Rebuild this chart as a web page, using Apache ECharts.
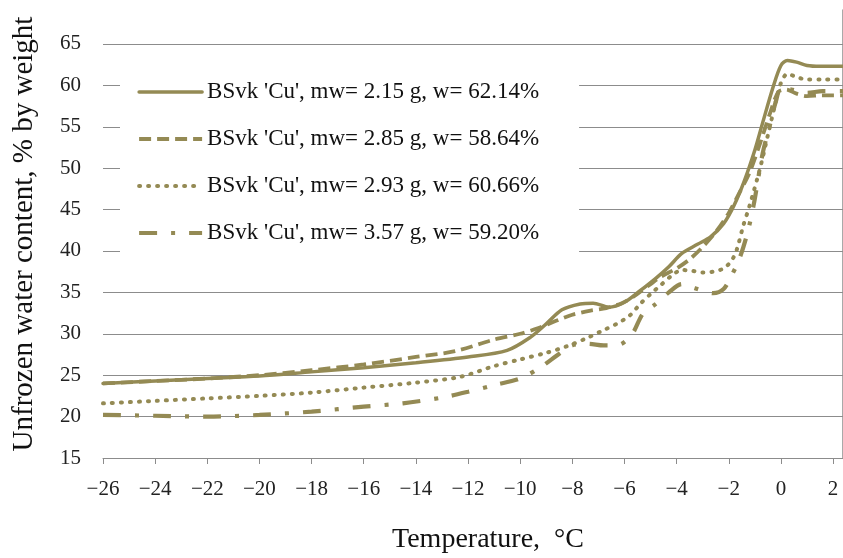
<!DOCTYPE html>
<html>
<head>
<meta charset="utf-8">
<script src="https://cdn.jsdelivr.net/npm/echarts@6/dist/echarts.min.js"></script>
<style>
  html, body { margin: 0; padding: 0; background: #fff; }
  #chart { width: 843px; height: 558px; }
</style>
</head>
<body>
<div id="chart"></div>
<script>
const seriesNames = [
  "BSvk 'Cu', mw= 2.15 g, w= 62.14%",
  "BSvk 'Cu', mw= 2.85 g, w= 58.64%",
  "BSvk 'Cu', mw= 2.93 g, w= 60.66%",
  "BSvk 'Cu', mw= 3.57 g, w= 59.20%"
]

// sample 1, solid
const tempA = [-26, -24, -22, -20, -18, -16, -14, -12, -10.5, -9.6, -9.0, -8.4, -7.7, -7.2, -6.6, -6.0, -5.4, -4.8, -4.3, -3.8, -3.2, -2.7, -2.2, -1.8, -1.4, -1.0, -0.7, -0.3, 0, 0.25, 0.6, 1.0, 1.5, 2.4]
const waterA = [24.0, 24.3, 24.6, 24.9, 25.4, 25.9, 26.5, 27.2, 28.0, 29.6, 31.2, 32.9, 33.6, 33.7, 33.2, 33.8, 35.2, 36.7, 38.1, 39.7, 40.8, 41.7, 43.3, 45.5, 48.5, 52.2, 55.5, 59.8, 62.4, 63.0, 62.8, 62.4, 62.3, 62.3]

// sample 2, dashed
const tempB = [-26, -24, -22, -20, -18, -16, -14, -12.5, -11, -10, -9.3, -8.6, -8.0, -7.3, -6.7, -6.1, -5.6, -5.0, -4.6, -4.0, -3.5, -3.0, -2.5, -2.0, -1.6, -1.2, -0.8, -0.4, -0.1, 0.2, 0.6, 1.0, 1.6, 2.4]
const waterB = [24.0, 24.3, 24.6, 25.0, 25.6, 26.3, 27.2, 27.9, 29.3, 30.0, 30.7, 31.6, 32.3, 32.8, 33.1, 33.7, 34.6, 36.0, 36.9, 37.9, 39.0, 40.5, 42.3, 44.6, 47.0, 49.5, 53.0, 56.8, 59.2, 59.5, 59.0, 58.7, 58.8, 58.8]

// sample 3, dotted
const tempC = [-26, -24, -22, -20, -18, -16, -14, -12.3, -11, -10, -9, -8.2, -7.5, -6.9, -6.3, -5.8, -5.4, -5.0, -4.6, -4.2, -3.8, -3.4, -3.0, -2.6, -2.2, -1.9, -1.7, -1.45, -1.2, -0.8, -0.5, -0.2, 0, 0.25, 0.6, 1.0, 1.6, 2.4]
const waterC = [21.6, 21.9, 22.2, 22.5, 22.9, 23.5, 24.1, 24.8, 26.1, 26.9, 27.7, 28.5, 29.4, 30.3, 31.2, 32.2, 33.6, 34.8, 35.9, 37.0, 37.7, 37.6, 37.4, 37.5, 37.9, 38.8, 40.1, 43.0, 45.5, 50.0, 54.0, 58.0, 60.3, 61.4, 61.0, 60.7, 60.7, 60.7]

// sample 4, dash-dot
const tempD = [-26, -24, -22, -20, -18, -16, -14.5, -13, -12, -11, -10, -9.2, -8.5, -8.0, -7.4, -6.8, -6.2, -5.7, -5.3, -4.8, -4.3, -3.8, -3.3, -2.9, -2.6, -2.2, -1.9, -1.6, -1.3, -1.05, -0.7, -0.4, -0.2, 0, 0.4, 1.0, 1.6, 2.4]
const waterD = [20.2, 20.1, 20.0, 20.2, 20.6, 21.2, 21.6, 22.3, 23.0, 23.8, 24.6, 26.0, 27.6, 28.6, 28.8, 28.6, 28.7, 30.0, 32.4, 33.6, 35.0, 36.0, 35.5, 35.1, 34.9, 35.4, 37.0, 39.0, 42.0, 45.5, 51.8, 55.5, 58.0, 59.6, 59.5, 59.1, 59.3, 59.3]

const xTicks = [-26, 2]   // first tick and step
const yTicks = [15, 5]

const lineColor = '#948a54'
const gridColor = '#8c8c8c'
const serif = "'Liberation Serif', 'Times New Roman', serif"

const pairs = (xs, ys) => xs.map((x, i) => [x, ys[i]])

const styles = [
  { width: 3.5, type: 'solid', cap: 'round' },
  { width: 3.8, type: [12, 6], cap: 'butt' },
  { width: 4, type: [1, 8], cap: 'round' },
  { width: 4.2, type: [18, 14, 4, 14], cap: 'butt' }
]
const data = [pairs(tempA, waterA), pairs(tempB, waterB), pairs(tempC, waterC), pairs(tempD, waterD)]

const chart = echarts.init(document.getElementById('chart'))

chart.setOption({
  animation: false,
  backgroundColor: '#fff',
  grid: { left: 103, right: 0, top: 10, bottom: 100, containLabel: false, outerBoundsMode: 'none' },
  legend: {
    orient: 'vertical',
    left: 120,
    top: 58,
    padding: [22, 40, 20, 17],
    backgroundColor: '#fff',
    itemWidth: 63,
    itemHeight: 14,
    itemGap: 23,
    // hide the symbol drawn on top of each legend line
    itemStyle: { color: 'rgba(0,0,0,0)', borderWidth: 0, opacity: 0 },
    lineStyle: { width: 'inherit', type: 'inherit', cap: 'inherit' },
    textStyle: { fontFamily: serif, fontSize: 23, color: '#111', lineHeight: 24 },
    data: seriesNames
  },
  xAxis: {
    type: 'value',
    min: xTicks[0],
    max: 2.38,
    interval: xTicks[1],
    name: 'Temperature,  °C',
    nameLocation: 'middle',
    nameGap: 68,
    nameTextStyle: { fontFamily: serif, fontSize: 28, color: '#111', padding: [0, 0, 0, 30] },
    axisLine: { onZero: false, lineStyle: { color: gridColor, width: 1 } },
    axisTick: { length: 6, lineStyle: { color: gridColor } },
    axisLabel: {
      margin: 21,
      showMaxLabel: false,
      fontFamily: serif,
      fontSize: 21,
      color: '#222',
      formatter: v => (v < 0 ? '\u2212' + Math.abs(v) : String(v))
    },
    splitLine: { show: false }
  },
  yAxis: [
    {
      type: 'value',
      min: yTicks[0],
      max: 69.1,
      interval: yTicks[1],
      name: 'Unfrozen water content, % by weight',
      nameLocation: 'middle',
      nameRotate: 90,
      nameGap: 64,
      nameTextStyle: { fontFamily: serif, fontSize: 29, color: '#111' },
      axisLine: { show: false },
      axisTick: { show: false },
      axisLabel: { margin: 22, showMaxLabel: false, fontFamily: serif, fontSize: 21, color: '#222' },
      splitLine: { show: true, showMaxLine: false, lineStyle: { color: gridColor, width: 1 } }
    },
    {
      // vertical axis crossing at 0 °C
      type: 'value',
      min: yTicks[0],
      max: 69.1,
      interval: yTicks[1],
      axisLine: { show: true, onZero: true, lineStyle: { color: gridColor, width: 1.5 } },
      axisTick: { show: false },
      axisLabel: { show: false },
      splitLine: { show: false }
    }
  ],
  series: seriesNames.map((name, i) => ({
    name,
    type: 'line',
    data: data[i],
    smooth: 0.3,
    symbol: 'none',
    z: 10 - i,
    itemStyle: { color: lineColor },
    lineStyle: Object.assign({ color: lineColor }, styles[i])
  }))
})

window.addEventListener('resize', () => chart.resize())
</script>
</body>
</html>
